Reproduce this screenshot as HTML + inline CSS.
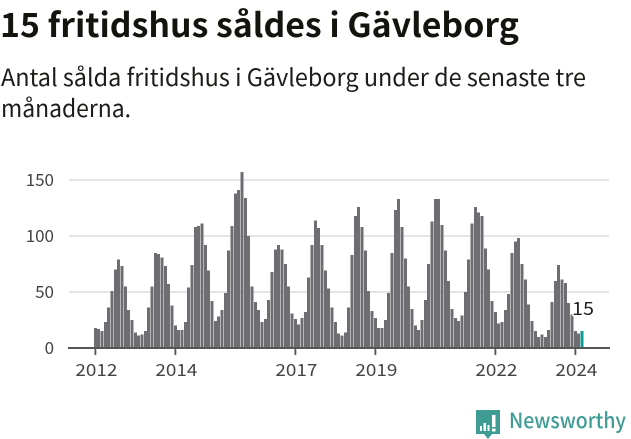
<!DOCTYPE html>
<html lang="sv">
<head>
<meta charset="utf-8">
<title>15 fritidshus såldes i Gävleborg</title>
<style>
html,body{margin:0;padding:0;background:#fff;width:631px;height:439px;overflow:hidden}
svg{display:block}
text{font-family:"Noto Sans CJK JP","Liberation Sans",sans-serif}
</style>
</head>
<body>
<svg id="chart" xmlns="http://www.w3.org/2000/svg" width="631" height="439" viewBox="0 0 631 439">
  <text x="0" y="37" font-size="33" font-weight="700" fill="#14140f" textLength="519" lengthAdjust="spacingAndGlyphs">15 fritidshus såldes i Gävleborg</text>
  <text x="1" y="86" font-size="24" fill="#1c1c18" textLength="585" lengthAdjust="spacingAndGlyphs">Antal sålda fritidshus i Gävleborg under de senaste tre</text>
  <text x="1" y="117" font-size="24" fill="#1c1c18" textLength="130" lengthAdjust="spacingAndGlyphs">månaderna.</text>
  <g id="grid"></g>
  <g id="bars" shape-rendering="crispEdges"></g>
  <g id="axes"></g>
  <g>
    <path d="M476 410h24v24h-8l-4 5-4-5h-8z" fill="#3f9c95"/>
    <path d="M480 426h2v5h-2zM483.500 423h2.500v8h-2.500zM487.500 425h2v6h-2zM492 415h3.500v12h-3.500zM492 428.500h3.500v3h-3.500z" fill="#fff"/>
    <text x="509" y="428" font-size="21" font-weight="500" fill="#3f9c95" textLength="117" lengthAdjust="spacingAndGlyphs">Newsworthy</text>
  </g>
</svg>
<script>
const values = [
  18,17,15,23,36,51,70,79,73,55,34,25,
  14,11,12,15,36,55,85,84,81,73,57,38,
  20,16,16,23,54,74,108,109,111,92,69,42,
  24,28,34,49,87,109,138,141,157,134,100,55,
  41,34,23,26,43,68,88,92,88,75,55,31,
  26,21,27,32,63,92,114,107,92,69,53,36,
  23,13,11,14,36,83,118,126,108,87,51,33,
  27,18,18,25,49,85,123,133,108,80,55,35,
  20,16,25,43,75,113,133,133,110,87,60,35,
  27,24,29,50,79,111,126,121,118,89,70,42,
  32,22,23,34,48,85,95,98,75,61,39,24,
  15,10,12,10,16,41,60,74,61,58,40,30,
  15,13,15
];
const yTicks = [0,50,100,150];
const xTickLabels = ["2012","2014","2017","2019","2022","2024"];
const xTickMonths = [0,24,60,84,120,144];
const highlightLabel = "15";

const NS = "http://www.w3.org/2000/svg";
function xScale(month){ return 95.4 + month * 3.3333; }
function yScale(v){ return 348 - v * 1.12; }
function make(tag, attrs, parent){
  const el = document.createElementNS(NS, tag);
  for (const k in attrs) el.setAttribute(k, attrs[k]);
  parent.appendChild(el);
  return el;
}
const grid = document.getElementById("grid");
const barsG = document.getElementById("bars");
const axes = document.getElementById("axes");

yTicks.forEach(function(t){
  if (t !== 0) {
    const line = make("rect", {x:69, y:yScale(t)-1, width:540, height:2, fill:"#e4e4e4"}, grid);
    
    
  }
  const label = make("text", {x:54, y:yScale(t)+6, "font-size":17, fill:"#444", "text-anchor":"end"}, axes);
  
  
  label.textContent = t;
});

values.forEach(function(v, i){
  const last = i === values.length - 1;
  const bar = make("rect", {
    x: xScale(i) - 1.5,
    y: yScale(v),
    width: 3,
    height: 348 - yScale(v),
    fill: last ? "#0a9d96" : "#6e6d72"
  }, barsG);
  
  
});

const axisLine = make("rect", {x:68, y:347, width:542, height:2, fill:"#555"}, axes);



xTickMonths.forEach(function(m, i){
  const tick = make("rect", {x:xScale(m)-0.9, y:348, width:1.8, height:7, fill:"#555"}, axes);
  
  
  const label = make("text", {x:xScale(m)+1, y:376, "font-size":17, fill:"#444", "text-anchor":"middle", textLength:42, lengthAdjust:"spacingAndGlyphs"}, axes);
  
  
  label.textContent = xTickLabels[i];
});

const valueLabel = make("text", {
  x: xScale(values.length - 1) - 10,
  y: 315,
  "font-size": 18,
  fill: "#222",
  stroke: "#fff",
  "stroke-width": 2.5,
  "paint-order": "stroke",
  textLength: 22,
  lengthAdjust: "spacingAndGlyphs"
}, axes);


valueLabel.textContent = highlightLabel;
</script>
</body>
</html>
